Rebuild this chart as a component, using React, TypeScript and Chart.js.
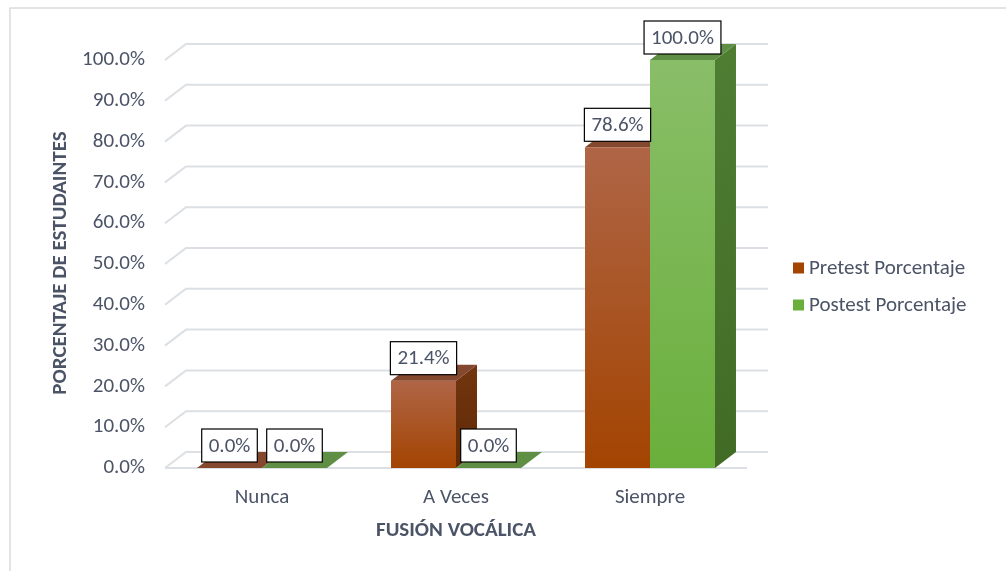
import React, { useEffect, useRef } from 'react';
import { Chart, registerables } from 'chart.js';

Chart.register(...registerables);

const categories = ['Nunca', 'A Veces', 'Siempre'];
const pretestValues = [0.0, 21.4, 78.6];
const postestValues = [0.0, 0.0, 100.0];
const seriesNames = ['Pretest Porcentaje', 'Postest Porcentaje'];
const xTitle = 'FUSIÓN VOCÁLICA';
const yTitle = 'PORCENTAJE DE ESTUDAINTES';
const yMin = 0;
const yMax = 100;
const yStep = 10;

const FONT = 'Carlito, Calibri, Lato, sans-serif';
const FS = 21;
const TEXT = '#4B5467';
const GRID = '#DCDFE4';
const DX = 21;
const DY = 16;

const palettes = [
  { frontTop: '#AF6546', frontBottom: '#A34401', top: '#84482F', sideTop: '#73350F', sideBottom: '#5E2A05', legend: '#A34401' },
  { frontTop: '#89BE68', frontBottom: '#6AAF3C', top: '#5F8F45', sideTop: '#4F7E33', sideBottom: '#416B25', legend: '#6AAF3C' },
];

const fmt = (v: number) => v.toFixed(1) + '%';

const threeD = {
  id: 'threeD',
  beforeDraw(chart: any) {
    const { ctx, chartArea, scales } = chart;
    const y = scales.y;
    ctx.save();
    ctx.fillStyle = '#FFFFFF';
    ctx.fillRect(0, 0, chart.width, chart.height);
    ctx.strokeStyle = '#D9DCE1';
    ctx.lineWidth = 1.5;
    ctx.strokeRect(10, 8, chart.width + 20, chart.height + 20);
    ctx.strokeStyle = GRID;
    ctx.lineWidth = 2;
    y.ticks.forEach((t: any) => {
      const py = y.getPixelForValue(t.value);
      ctx.beginPath();
      ctx.moveTo(chartArea.left, py);
      ctx.lineTo(chartArea.left + DX, py - DY);
      ctx.lineTo(chartArea.right + DX, py - DY);
      ctx.stroke();
    });
    const py0 = y.getPixelForValue(yMin);
    ctx.beginPath();
    ctx.moveTo(chartArea.left, py0);
    ctx.lineTo(chartArea.right, py0);
    ctx.stroke();
    ctx.restore();
  },
  beforeDatasetsDraw(chart: any) {
    const { ctx } = chart;
    ctx.save();
    categories.forEach((_, i) => {
      chart.data.datasets.forEach((_ds: any, d: number) => {
        const el: any = chart.getDatasetMeta(d).data[i];
        if (!el) return;
        const p = palettes[d];
        const x0 = el.x - el.width / 2;
        const x1 = el.x + el.width / 2;
        const top = el.y;
        const base = el.base;
        if (base - top > 0.5) {
          const g = ctx.createLinearGradient(0, top, 0, base);
          g.addColorStop(0, p.frontTop);
          g.addColorStop(1, p.frontBottom);
          ctx.fillStyle = g;
          ctx.fillRect(x0, top, x1 - x0, base - top);
          const gs = ctx.createLinearGradient(0, top - DY, 0, base);
          gs.addColorStop(0, p.sideTop);
          gs.addColorStop(1, p.sideBottom);
          ctx.fillStyle = gs;
          ctx.beginPath();
          ctx.moveTo(x1, top);
          ctx.lineTo(x1 + DX, top - DY);
          ctx.lineTo(x1 + DX, base - DY);
          ctx.lineTo(x1, base);
          ctx.closePath();
          ctx.fill();
        }
        ctx.fillStyle = p.top;
        ctx.beginPath();
        ctx.moveTo(x0, top);
        ctx.lineTo(x1, top);
        ctx.lineTo(x1 + DX, top - DY);
        ctx.lineTo(x0 + DX, top - DY);
        ctx.closePath();
        ctx.fill();
      });
    });
    ctx.restore();
    return false;
  },
  afterDraw(chart: any) {
    const { ctx, chartArea } = chart;
    ctx.save();
    // data labels
    ctx.font = `${FS}px ${FONT}`;
    ctx.textAlign = 'center';
    ctx.textBaseline = 'middle';
    chart.data.datasets.forEach((ds: any, d: number) => {
      chart.getDatasetMeta(d).data.forEach((el: any, i: number) => {
        const txt = fmt(ds.data[i]);
        const w = ctx.measureText(txt).width + 14;
        const h = 33;
        const bottom = el.y - 6;
        const left = el.x - w / 2;
        ctx.fillStyle = '#FFFFFF';
        ctx.fillRect(left, bottom - h, w, h);
        ctx.strokeStyle = '#000000';
        ctx.lineWidth = 1.2;
        ctx.strokeRect(left, bottom - h, w, h);
        ctx.fillStyle = TEXT;
        ctx.fillText(txt, el.x, bottom - h / 2 + 1);
      });
    });
    // axis titles
    ctx.font = `bold ${FS}px ${FONT}`;
    ctx.fillStyle = TEXT;
    ctx.textAlign = 'center';
    ctx.textBaseline = 'middle';
    ctx.fillText(xTitle, (chartArea.left + chartArea.right) / 2, 531);
    ctx.save();
    ctx.translate(61, 263);
    ctx.rotate(-Math.PI / 2);
    ctx.fillText(yTitle, 0, 0);
    ctx.restore();
    // legend
    ctx.font = `${FS}px ${FONT}`;
    ctx.textAlign = 'left';
    const legY = [268, 305];
    seriesNames.forEach((name, d) => {
      ctx.fillStyle = palettes[d].legend;
      ctx.fillRect(793, legY[d] - 5.5, 11, 11);
      ctx.fillStyle = TEXT;
      ctx.fillText(name, 809, legY[d] + 1);
    });
    ctx.restore();
  },
};

export default function App() {
  const ref = useRef<HTMLCanvasElement | null>(null);
  useEffect(() => {
    if (!ref.current) return;
    const chart = new Chart(ref.current, {
      type: 'bar',
      data: {
        labels: categories,
        datasets: [
          { label: seriesNames[0], data: pretestValues, backgroundColor: palettes[0].legend },
          { label: seriesNames[1], data: postestValues, backgroundColor: palettes[1].legend },
        ],
      },
      options: {
        responsive: false,
        animation: false,
        layout: { padding: { top: 60, right: 259, left: 0, bottom: 0 } },
        datasets: { bar: { categoryPercentage: 0.67, barPercentage: 1 } },
        plugins: { legend: { display: false }, tooltip: { enabled: false } },
        scales: {
          x: {
            grid: { display: false, drawTicks: false },
            border: { display: false },
            ticks: { padding: 17, color: TEXT, font: { family: FONT, size: FS } },
            afterFit: (s: any) => { s.height = 103; },
          },
          y: {
            min: yMin,
            max: yMax,
            grid: { display: false, drawTicks: false },
            border: { display: false },
            ticks: {
              stepSize: yStep,
              padding: 20,
              color: TEXT,
              font: { family: FONT, size: FS },
              callback: (v: any) => fmt(Number(v)),
            },
            afterFit: (s: any) => { s.width = 165; },
          },
        },
      },
      plugins: [threeD],
    } as any);
    return () => chart.destroy();
  }, []);
  return (
    <div style={{ position: 'absolute', left: 0, top: 0, width: 1006, height: 571 }}>
      <canvas ref={ref} width={1006} height={571} style={{ display: 'block' }} />
    </div>
  );
}
